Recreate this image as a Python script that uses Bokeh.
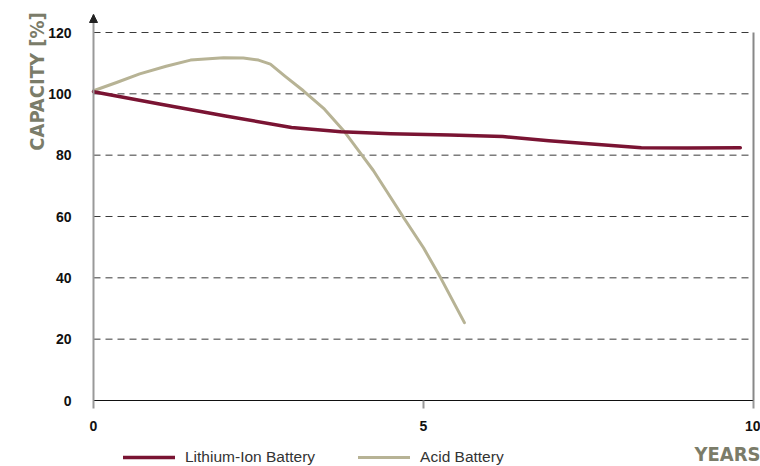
from bokeh.plotting import figure
from bokeh.models import (Range1d, FixedTicker, Label, Legend, LegendItem,
                          Arrow, NormalHead)
from bokeh.embed import file_html
from bokeh.resources import INLINE
import math

# ---- data ----
x_ticks = [0, 5, 10]
y_ticks = [0, 20, 40, 60, 80, 100, 120]

lithium_years = [0, 1.0, 2.0, 3.0, 3.75, 4.5, 5.4, 6.2, 6.9, 7.7, 8.3, 9.0, 9.8]
lithium_capacity = [100.7, 96.7, 92.8, 89.0, 87.6, 87.0, 86.6, 86.1, 84.7, 83.4, 82.4, 82.3, 82.4]

acid_years = [0, 0.35, 0.7, 1.1, 1.47, 1.97, 2.27, 2.5, 2.68, 2.9, 3.18, 3.5, 3.79,
              4.05, 4.24, 4.7, 5.0, 5.26, 5.62]
acid_capacity = [101.0, 103.7, 106.5, 109.0, 111.0, 111.8, 111.7, 111.0, 109.7, 105.8,
                 101.0, 95.0, 88.0, 80.5, 75.0, 59.6, 49.8, 40.0, 25.4]

series_names = ["Lithium-Ion Battery", "Acid Battery"]
x_label = "YEARS"
y_label = "CAPACITY [%]"

LI_COLOR = "#7a1433"
ACID_COLOR = "#b7b395"
LABEL_COLOR = "#7b7c69"
FONT = "Liberation Sans"
COND = "DejaVu Sans Condensed"

W, H = 760, 466
# pixel anchors of the chart area (whole canvas is the frame; axes fixed at 0)
X0_PX, X10_PX = 93, 753
Y0_PX, Y120_PX = 400, 32
px_per_x = (X10_PX - X0_PX) / 10.0
px_per_y = (Y0_PX - Y120_PX) / 120.0
x_start = -X0_PX / px_per_x
x_end = (W - X0_PX) / px_per_x
y_start = -(H - Y0_PX) / px_per_y
y_end = Y0_PX / px_per_y
y_arrow = (Y0_PX - 14) / px_per_y

p = figure(width=W, height=H, output_backend="svg", toolbar_location=None,
           x_range=Range1d(x_start, x_end), y_range=Range1d(y_start, y_end),
           min_border=0, min_border_left=0, min_border_right=0,
           min_border_top=0, min_border_bottom=0)
p.outline_line_color = None
p.xgrid.visible = False
p.ygrid.visible = False

# horizontal dashed grid lines, from the y ticks, between x=0 and x=10
p.segment(x0=[x_ticks[0]] * (len(y_ticks) - 1), x1=[x_ticks[-1]] * (len(y_ticks) - 1),
          y0=y_ticks[1:], y1=y_ticks[1:], line_color="#3a3a3a",
          line_dash="7 5", line_width=1)

# x axis at y = 0
p.xaxis.fixed_location = 0
p.xaxis.bounds = (x_ticks[0], x_ticks[-1])
p.xaxis.ticker = FixedTicker(ticks=x_ticks)
p.xaxis.axis_line_color = "#111111"
p.xaxis.axis_line_width = 1
p.xaxis.major_tick_line_color = "#999999"
p.xaxis.major_tick_line_width = 2
p.xaxis.major_tick_out = 8
p.xaxis.major_tick_in = 0
p.xaxis.minor_tick_line_color = None
p.xaxis.major_label_standoff = 12
p.xaxis.major_label_text_font = FONT
p.xaxis.major_label_text_font_style = "bold"
p.xaxis.major_label_text_font_size = "14px"
p.xaxis.major_label_text_color = "#111111"

# y axis at x = 0
p.yaxis.fixed_location = 0
p.yaxis.bounds = (y_ticks[0], y_arrow)
p.yaxis.ticker = FixedTicker(ticks=y_ticks)
p.yaxis.axis_line_color = "#999999"
p.yaxis.axis_line_width = 2
p.yaxis.major_tick_line_color = None
p.yaxis.minor_tick_line_color = None
p.yaxis.major_label_standoff = 16
p.yaxis.major_label_text_font = FONT
p.yaxis.major_label_text_font_style = "bold"
p.yaxis.major_label_text_font_size = "14px"
p.yaxis.major_label_text_color = "#111111"

# right border
p.segment(x0=[x_ticks[-1]], y0=[y_ticks[0]], x1=[x_ticks[-1]], y1=[y_ticks[-1]],
          line_color="#888888", line_width=2)

# arrow head on y axis
p.add_layout(Arrow(end=NormalHead(size=8, fill_color="#222222", line_color="#222222"),
                   x_start=0, y_start=y_arrow - 3, x_end=0, y_end=y_arrow,
                   line_alpha=0))

r_acid = p.line(acid_years, acid_capacity, line_color=ACID_COLOR, line_width=3,
                line_join="round", line_cap="round")
r_li = p.line(lithium_years, lithium_capacity, line_color=LI_COLOR, line_width=3.5,
              line_join="round", line_cap="round")

legend = Legend(items=[LegendItem(label=series_names[0], renderers=[r_li]),
                       LegendItem(label=series_names[1], renderers=[r_acid])],
                orientation="horizontal", location=(123, 0),
                glyph_width=52, glyph_height=16, label_height=16,
                label_standoff=10, spacing=43, padding=0, margin=0,
                border_line_color=None, background_fill_alpha=0,
                label_text_font=FONT, label_text_font_size="15.5px",
                label_text_color="#333333")
p.add_layout(legend, "center")

p.add_layout(Label(x=-57 / px_per_x, y=(Y0_PX - 81) / px_per_y, text=y_label,
                   angle=math.pi / 2, text_align="center", text_baseline="middle",
                   text_font=COND, text_font_style="bold",
                   text_font_size="20px", text_color=LABEL_COLOR))
p.add_layout(Label(x=x_end, y=-(465 - Y0_PX) / px_per_y, text=x_label,
                   text_align="right", text_baseline="bottom",
                   text_font=COND, text_font_style="bold",
                   text_font_size="20px", text_color=LABEL_COLOR))

open("out.html", "w").write(file_html(p, INLINE))
